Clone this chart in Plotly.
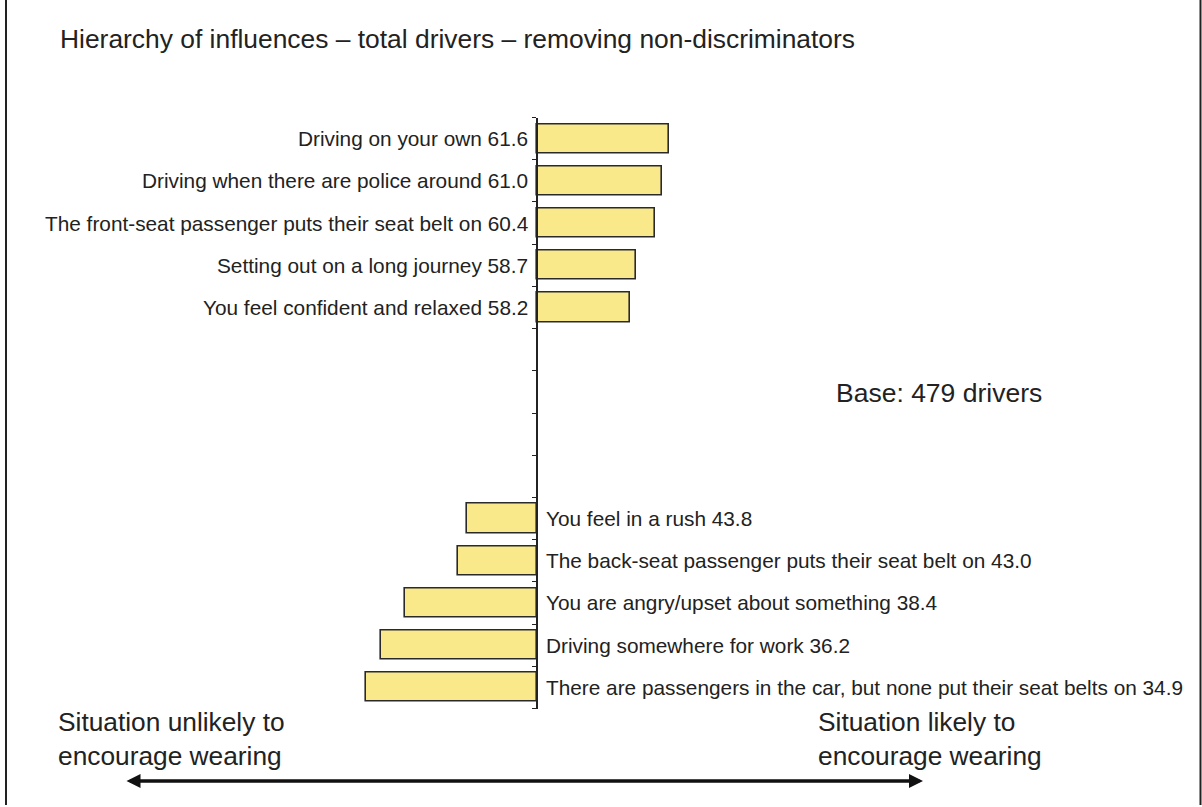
import plotly.graph_objects as go

# ---- data ----
top_labels = [
    "Driving on your own",
    "Driving when there are police around",
    "The front-seat passenger puts their seat belt on",
    "Setting out on a long journey",
    "You feel confident and relaxed",
]
top_values = [61.6, 61.0, 60.4, 58.7, 58.2]

bottom_labels = [
    "You feel in a rush",
    "The back-seat passenger puts their seat belt on",
    "You are angry/upset about something",
    "Driving somewhere for work",
    "There are passengers in the car, but none put their seat belts on",
]
bottom_values = [43.8, 43.0, 38.4, 36.2, 34.9]

midpoint = 50
gap_slots = 4
title_text = "Hierarchy of influences – total drivers – removing non-discriminators"
base_text = "Base: 479 drivers"
left_note = "Situation unlikely to<br>encourage wearing"
right_note = "Situation likely to<br>encourage wearing"

# ---- layout helpers ----
W, H = 1202, 807
FONT = "Liberation Sans, Arial, Helvetica, sans-serif"
TXT = "#222222"
px_per_unit = 11.34
axis_px = 537
n_slots = len(top_values) + gap_slots + len(bottom_values)

top_pos = list(range(len(top_values)))
bottom_pos = [len(top_values) + gap_slots + i for i in range(len(bottom_values))]

fig = go.Figure()
fig.add_trace(go.Bar(
    orientation="h",
    y=top_pos + bottom_pos,
    x=[v - midpoint for v in top_values + bottom_values],
    base=midpoint,
    width=0.69,
    marker=dict(color="#F9E98A", line=dict(color="#2a2a2a", width=1.6)),
    hoverinfo="skip",
    showlegend=False,
))

LABEL_SIZE = 20.8
annotations = []
for lab, val, pos in zip(top_labels, top_values, top_pos):
    annotations.append(dict(x=midpoint, y=pos, xref="x", yref="y",
                            text=f"{lab} {val:.1f}", showarrow=False,
                            xanchor="right", yanchor="middle", xshift=-7,
                            font=dict(family=FONT, size=LABEL_SIZE, color=TXT)))
for lab, val, pos in zip(bottom_labels, bottom_values, bottom_pos):
    annotations.append(dict(x=midpoint, y=pos, xref="x", yref="y",
                            text=f"{lab} {val:.1f}", showarrow=False,
                            xanchor="left", yanchor="middle", xshift=7,
                            font=dict(family=FONT, size=LABEL_SIZE, color=TXT)))

annotations += [
    dict(x=58 / W, y=1 - 39 / H, xref="paper", yref="paper", text=title_text,
         showarrow=False, xanchor="left", yanchor="middle",
         font=dict(family=FONT, size=26.4, color=TXT)),
    dict(x=834 / W, y=1 - 393 / H, xref="paper", yref="paper", text=base_text,
         showarrow=False, xanchor="left", yanchor="middle",
         font=dict(family=FONT, size=26.5, color=TXT)),
    dict(x=56 / W, y=1 - 739 / H, xref="paper", yref="paper", text=left_note,
         showarrow=False, xanchor="left", yanchor="middle", align="left",
         font=dict(family=FONT, size=26.3, color=TXT)),
    dict(x=816 / W, y=1 - 739 / H, xref="paper", yref="paper", text=right_note,
         showarrow=False, xanchor="left", yanchor="middle", align="left",
         font=dict(family=FONT, size=26.3, color=TXT)),
    dict(x=923 / W, y=1 - 781 / H, xref="paper", yref="paper", text="",
         showarrow=True, ax=-(923 - 125), ay=0, axref="pixel", ayref="pixel",
         arrowside="end+start", arrowhead=2, arrowsize=0.8, arrowwidth=3.5,
         arrowcolor="#111111", standoff=0, startstandoff=0),
]

shapes = [
    dict(type="line", xref="paper", yref="paper", x0=6 / W, x1=6 / W,
         y0=1 - 805 / H, y1=1, line=dict(color="#222222", width=2)),
    dict(type="line", xref="paper", yref="paper", x0=1200.5 / W, x1=1200.5 / W,
         y0=1 - 805 / H, y1=1, line=dict(color="#222222", width=2)),
]

fig.update_layout(
    width=W, height=H,
    margin=dict(l=0, r=0, t=0, b=0),
    paper_bgcolor="white", plot_bgcolor="rgba(0,0,0,0)",
    xaxis=dict(domain=[0, 1],
               range=[midpoint - axis_px / px_per_unit, midpoint + (W - axis_px) / px_per_unit],
               visible=False, fixedrange=True),
    yaxis=dict(domain=[1 - 708.5 / H, 1 - 117.5 / H],
               range=[n_slots - 0.5, -0.5],
               anchor="free", position=axis_px / W,
               showline=True, linecolor="#222222", linewidth=1.5,
               ticks="outside", ticklen=4, tickcolor="#222222", tickwidth=1.2,
               tickvals=[i - 0.5 for i in range(n_slots + 1)],
               showticklabels=False, showgrid=False, zeroline=False, fixedrange=True),
    annotations=annotations,
    shapes=shapes,
    bargap=0,
)

fig.write_html(
    "out.html",
    config={"displayModeBar": False},
    post_script="document.body.style.margin='0';document.body.style.overflow='hidden';",
)
